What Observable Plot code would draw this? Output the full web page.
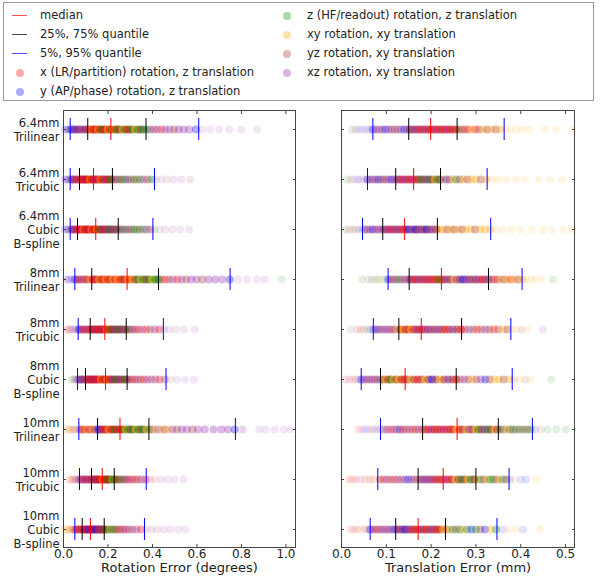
<!DOCTYPE html>
<html><head><meta charset="utf-8">
<script src="https://cdn.jsdelivr.net/npm/d3@7"></script>
<script src="https://cdn.jsdelivr.net/npm/@observablehq/plot@0.6"></script>
<style>
body{margin:0;background:#fff;font-family:"DejaVu Sans",sans-serif;}
#wrap{position:relative;width:600px;height:581px;overflow:hidden;}
#legend{position:absolute;left:3px;top:2px;width:591px;height:99px;border:1px solid #999;box-sizing:border-box;}
#legsym{position:absolute;left:0;top:0;}
.li{position:absolute;font-size:11.5px;color:#222;line-height:14px;white-space:nowrap;}
#left,#right{position:absolute;top:100px;}
#left{left:0}#right{left:300px}
</style></head><body>
<div id="wrap"><div id="legend"></div><div id="left"></div><div id="right"></div></div>
<script>
const rowLabels = ["6.4mm\nTrilinear","6.4mm\nTricubic","6.4mm\nCubic\nB-spline","8mm\nTrilinear","8mm\nTricubic","8mm\nCubic\nB-spline","10mm\nTrilinear","10mm\nTricubic","10mm\nCubic\nB-spline"];
const catCodes = ["r","b","g","o","n","p"];
const catNames = ["x (LR/partition) rotation, z translation","y (AP/phase) rotation, z translation","z (HF/readout) rotation, z translation","xy rotation, xy translation","yz rotation, xy translation","xz rotation, xy translation"];
const catColors = ["#ff0000","#0000ff","#008000","#ffa500","#a52a2a","#8e24aa"];
const quantNames = ["median","25%, 75% quantile","5%, 95% quantile"];
const quantColors = ["#ff0000","#000000","#0000ff"];
const rotTicks = [0,0.2,0.4,0.6,0.8,1.0];
const trTicks = [0,0.1,0.2,0.3,0.4,0.5];

// quantiles (rotation, degrees)
const rotQ05 = [.030,.030,.030,.051,.066,.063,.069,.072,.051];
const rotQ25 = [.109,.072,.063,.127,.120,.099,.153,.126,.084];
const rotQ50 = [.213,.135,.145,.286,.186,.189,.254,.174,.121];
const rotQ75 = [.371,.220,.246,.427,.282,.286,.384,.228,.183];
const rotQ95 = [.608,.409,.402,.749,.449,.461,.773,.372,.364];
// quantiles (translation, mm)
const trQ05 = [.070,.058,.047,.104,.071,.044,.087,.081,.064];
const trQ25 = [.150,.121,.092,.151,.128,.087,.181,.171,.121];
const trQ50 = [.199,.161,.141,.223,.178,.142,.258,.227,.171];
const trQ75 = [.258,.221,.214,.328,.268,.256,.350,.300,.232];
const trQ95 = [.363,.325,.333,.403,.378,.381,.426,.374,.347];

// rotation error samples
const rot64Tri = [[.004,"b"],[.010,"p"],[.016,"b"],[.022,"b"],[.028,"p"],[.034,"b"],[.040,"n"],[.047,"b"],[.054,"p"],[.061,"r"],[.068,"b"],[.075,"n"],[.083,"p"],[.091,"r"],[.099,"b"],[.107,"n"],[.115,"r"],[.123,"o"],[.131,"r"],[.139,"n"],[.147,"r"],[.155,"o"],[.163,"r"],[.171,"g"],[.180,"n"],[.189,"r"],[.198,"o"],[.207,"r"],[.216,"g"],[.225,"o"],[.234,"r"],[.244,"g"],[.254,"n"],[.264,"o"],[.275,"g"],[.286,"r"],[.297,"n"],[.309,"g"],[.321,"o"],[.334,"g"],[.347,"n"],[.361,"g"],[.375,"g"],[.390,"p"],[.406,"n"],[.422,"p"],[.440,"r"],[.458,"p"],[.477,"p"],[.497,"n"],[.518,"p"],[.540,"p"],[.565,"p"],[.595,"b"],[.625,"p"],[.660,"p"],[.700,"p"],[.745,"p"],[.800,"p"],[.870,"p"]];
const rot64Tcu = [[.005,"b"],[.011,"p"],[.017,"b"],[.023,"b"],[.029,"p"],[.035,"n"],[.041,"b"],[.047,"r"],[.053,"p"],[.059,"n"],[.065,"r"],[.071,"p"],[.077,"r"],[.083,"n"],[.089,"r"],[.095,"p"],[.101,"r"],[.107,"n"],[.113,"r"],[.119,"o"],[.125,"r"],[.131,"n"],[.138,"r"],[.145,"p"],[.152,"r"],[.159,"n"],[.166,"o"],[.173,"r"],[.181,"n"],[.189,"p"],[.197,"r"],[.205,"n"],[.214,"g"],[.223,"n"],[.233,"r"],[.243,"p"],[.254,"g"],[.265,"n"],[.277,"g"],[.289,"p"],[.302,"n"],[.316,"g"],[.330,"n"],[.345,"g"],[.361,"p"],[.378,"n"],[.396,"g"],[.415,"n"],[.438,"p"],[.465,"n"],[.495,"p"],[.530,"p"],[.570,"n"]];
const rot64Bsp = [[.005,"b"],[.011,"b"],[.017,"p"],[.023,"b"],[.029,"p"],[.035,"n"],[.041,"b"],[.047,"r"],[.053,"p"],[.059,"r"],[.065,"n"],[.071,"r"],[.077,"p"],[.083,"r"],[.089,"o"],[.095,"r"],[.101,"n"],[.107,"r"],[.113,"p"],[.119,"r"],[.125,"o"],[.131,"r"],[.137,"n"],[.143,"r"],[.150,"o"],[.157,"r"],[.164,"g"],[.171,"n"],[.178,"p"],[.186,"r"],[.194,"n"],[.202,"p"],[.210,"g"],[.219,"n"],[.228,"p"],[.237,"n"],[.247,"g"],[.257,"p"],[.268,"n"],[.279,"g"],[.291,"p"],[.303,"n"],[.316,"g"],[.329,"g"],[.343,"n"],[.358,"g"],[.374,"p"],[.391,"n"],[.410,"g"],[.432,"p"],[.458,"n"],[.490,"p"],[.525,"p"],[.565,"p"]];
const rot8Tri = [[.012,"p"],[.020,"b"],[.028,"p"],[.036,"b"],[.044,"n"],[.052,"b"],[.060,"p"],[.068,"n"],[.077,"r"],[.086,"p"],[.095,"n"],[.104,"r"],[.113,"n"],[.122,"o"],[.131,"r"],[.140,"n"],[.150,"r"],[.160,"o"],[.170,"n"],[.180,"r"],[.190,"o"],[.200,"r"],[.211,"n"],[.222,"o"],[.233,"r"],[.244,"o"],[.255,"r"],[.266,"n"],[.277,"r"],[.288,"o"],[.299,"r"],[.311,"o"],[.323,"n"],[.335,"g"],[.347,"o"],[.359,"g"],[.372,"n"],[.385,"g"],[.398,"o"],[.412,"g"],[.426,"g"],[.441,"n"],[.457,"r"],[.474,"n"],[.492,"p"],[.511,"r"],[.531,"p"],[.552,"n"],[.574,"p"],[.598,"p"],[.624,"n"],[.652,"p"],[.682,"p"],[.714,"p"],[.748,"b"],[.785,"p"],[.825,"p"],[.870,"p"],[.905,"p"],[.980,"g"]];
const rot8Tcu = [[.015,"r"],[.023,"p"],[.031,"r"],[.039,"n"],[.047,"p"],[.055,"b"],[.062,"p"],[.069,"b"],[.076,"n"],[.083,"p"],[.090,"r"],[.097,"p"],[.104,"n"],[.111,"r"],[.118,"p"],[.125,"r"],[.132,"n"],[.139,"p"],[.146,"r"],[.153,"n"],[.160,"r"],[.167,"p"],[.174,"r"],[.181,"n"],[.188,"r"],[.195,"o"],[.202,"n"],[.210,"r"],[.218,"g"],[.226,"n"],[.234,"p"],[.242,"n"],[.251,"g"],[.260,"n"],[.269,"p"],[.279,"n"],[.289,"g"],[.300,"n"],[.311,"p"],[.323,"n"],[.338,"r"],[.355,"p"],[.372,"r"],[.390,"n"],[.410,"p"],[.430,"r"],[.452,"b"],[.475,"p"],[.505,"n"],[.540,"p"],[.590,"p"]];
const rot8Bsp = [[.035,"g"],[.042,"o"],[.049,"b"],[.056,"p"],[.062,"b"],[.068,"n"],[.074,"p"],[.080,"b"],[.086,"n"],[.092,"p"],[.098,"r"],[.104,"n"],[.110,"p"],[.116,"r"],[.122,"n"],[.128,"p"],[.134,"r"],[.140,"n"],[.147,"r"],[.154,"p"],[.161,"r"],[.168,"o"],[.175,"r"],[.182,"n"],[.189,"r"],[.196,"o"],[.204,"r"],[.212,"n"],[.220,"p"],[.228,"n"],[.237,"g"],[.246,"n"],[.255,"p"],[.265,"n"],[.275,"g"],[.285,"n"],[.296,"p"],[.308,"n"],[.320,"r"],[.333,"p"],[.347,"n"],[.362,"r"],[.378,"p"],[.395,"n"],[.413,"p"],[.432,"r"],[.455,"p"],[.480,"n"],[.510,"p"],[.545,"p"],[.585,"p"]];
const rot10Tri = [[.012,"o"],[.020,"o"],[.028,"n"],[.036,"o"],[.044,"r"],[.052,"n"],[.060,"o"],[.068,"b"],[.077,"r"],[.086,"n"],[.095,"r"],[.104,"o"],[.113,"n"],[.122,"r"],[.131,"o"],[.140,"n"],[.149,"p"],[.158,"b"],[.167,"p"],[.176,"r"],[.185,"n"],[.194,"r"],[.203,"o"],[.212,"n"],[.221,"r"],[.230,"g"],[.240,"r"],[.250,"n"],[.260,"r"],[.270,"g"],[.280,"o"],[.291,"g"],[.302,"n"],[.313,"g"],[.324,"o"],[.336,"g"],[.348,"n"],[.360,"g"],[.372,"o"],[.385,"g"],[.398,"n"],[.412,"o"],[.426,"p"],[.441,"o"],[.456,"n"],[.472,"o"],[.490,"p"],[.510,"n"],[.532,"p"],[.555,"p"],[.580,"n"],[.605,"p"],[.635,"p"],[.675,"p"],[.710,"p"],[.740,"p"],[.770,"b"],[.800,"p"],[.810,"p"],[.880,"p"],[.910,"p"],[.950,"p"],[.990,"p"],[1.02,"p"]];
const rot10Tcu = [[.027,"r"],[.034,"o"],[.041,"r"],[.048,"n"],[.055,"p"],[.062,"r"],[.068,"b"],[.074,"p"],[.080,"n"],[.086,"p"],[.092,"r"],[.098,"p"],[.104,"n"],[.110,"p"],[.116,"r"],[.122,"p"],[.128,"n"],[.134,"p"],[.140,"r"],[.146,"n"],[.152,"p"],[.158,"r"],[.164,"n"],[.170,"r"],[.176,"o"],[.182,"r"],[.188,"n"],[.194,"g"],[.200,"r"],[.206,"n"],[.213,"g"],[.220,"o"],[.227,"g"],[.234,"n"],[.242,"g"],[.250,"r"],[.258,"n"],[.267,"g"],[.276,"p"],[.286,"n"],[.297,"r"],[.309,"p"],[.322,"r"],[.336,"n"],[.352,"p"],[.370,"r"],[.390,"p"],[.410,"r"],[.440,"p"],[.470,"p"],[.500,"p"],[.540,"p"]];
const rot10Bsp = [[.005,"o"],[.011,"o"],[.017,"o"],[.023,"o"],[.029,"n"],[.035,"o"],[.041,"r"],[.047,"n"],[.053,"r"],[.059,"p"],[.065,"r"],[.071,"n"],[.077,"r"],[.083,"p"],[.089,"r"],[.095,"n"],[.101,"p"],[.107,"r"],[.113,"b"],[.119,"p"],[.125,"r"],[.131,"b"],[.137,"p"],[.143,"n"],[.149,"b"],[.155,"p"],[.161,"n"],[.167,"r"],[.173,"p"],[.179,"n"],[.186,"g"],[.193,"n"],[.200,"g"],[.208,"o"],[.216,"g"],[.225,"n"],[.235,"g"],[.245,"r"],[.256,"n"],[.268,"p"],[.280,"r"],[.294,"p"],[.310,"n"],[.328,"p"],[.348,"r"],[.370,"p"],[.395,"p"],[.420,"n"],[.450,"p"],[.480,"p"],[.515,"p"],[.547,"p"]];

// translation error samples
const tr64Tri = [[.024,"g"],[.032,"n"],[.040,"b"],[.048,"p"],[.056,"b"],[.063,"n"],[.070,"b"],[.077,"p"],[.084,"n"],[.091,"p"],[.098,"b"],[.105,"p"],[.112,"n"],[.119,"p"],[.126,"n"],[.133,"p"],[.140,"b"],[.146,"p"],[.152,"n"],[.158,"p"],[.164,"n"],[.170,"p"],[.176,"r"],[.182,"n"],[.188,"p"],[.194,"r"],[.200,"n"],[.206,"r"],[.212,"p"],[.218,"r"],[.224,"n"],[.230,"r"],[.236,"p"],[.242,"r"],[.248,"n"],[.255,"r"],[.262,"g"],[.269,"r"],[.276,"n"],[.283,"r"],[.291,"o"],[.299,"r"],[.307,"n"],[.316,"o"],[.325,"n"],[.334,"o"],[.344,"n"],[.354,"o"],[.365,"o"],[.377,"o"],[.390,"o"],[.405,"o"],[.420,"o"],[.455,"o"],[.480,"o"],[.515,"o"]];
const tr64Tcu = [[.013,"g"],[.021,"n"],[.029,"p"],[.037,"b"],[.044,"p"],[.051,"n"],[.058,"b"],[.064,"p"],[.070,"n"],[.076,"p"],[.082,"b"],[.088,"n"],[.094,"p"],[.100,"n"],[.106,"p"],[.112,"b"],[.118,"p"],[.124,"n"],[.130,"p"],[.136,"r"],[.142,"p"],[.148,"n"],[.154,"r"],[.160,"p"],[.166,"r"],[.172,"n"],[.178,"g"],[.184,"n"],[.190,"p"],[.196,"g"],[.202,"n"],[.208,"o"],[.214,"g"],[.220,"n"],[.227,"o"],[.234,"b"],[.241,"n"],[.248,"o"],[.256,"g"],[.264,"n"],[.272,"o"],[.281,"n"],[.290,"o"],[.300,"o"],[.311,"n"],[.323,"o"],[.336,"o"],[.350,"o"],[.368,"o"],[.390,"o"],[.410,"o"],[.440,"o"],[.465,"o"],[.493,"o"]];
const tr64Bsp = [[.009,"g"],[.017,"n"],[.025,"r"],[.032,"g"],[.039,"p"],[.046,"b"],[.052,"p"],[.058,"n"],[.064,"p"],[.070,"b"],[.076,"p"],[.082,"n"],[.088,"p"],[.094,"p"],[.100,"n"],[.106,"p"],[.112,"r"],[.118,"p"],[.124,"n"],[.130,"p"],[.136,"r"],[.142,"n"],[.148,"b"],[.154,"p"],[.160,"n"],[.166,"b"],[.172,"n"],[.178,"p"],[.184,"n"],[.190,"b"],[.197,"n"],[.204,"p"],[.212,"n"],[.220,"o"],[.228,"o"],[.236,"n"],[.244,"o"],[.252,"n"],[.260,"o"],[.269,"n"],[.278,"o"],[.288,"o"],[.298,"n"],[.309,"o"],[.320,"o"],[.332,"o"],[.345,"o"],[.360,"o"],[.380,"o"],[.400,"o"],[.425,"o"],[.450,"o"],[.470,"o"],[.495,"o"],[.515,"o"]];
const tr8Tri = [[.046,"g"],[.060,"n"],[.068,"g"],[.076,"n"],[.084,"g"],[.091,"o"],[.098,"g"],[.104,"b"],[.110,"n"],[.116,"p"],[.122,"n"],[.128,"g"],[.134,"p"],[.140,"n"],[.146,"p"],[.152,"n"],[.158,"p"],[.164,"r"],[.170,"n"],[.176,"p"],[.182,"n"],[.188,"r"],[.194,"p"],[.200,"r"],[.206,"n"],[.212,"r"],[.218,"g"],[.224,"r"],[.230,"n"],[.237,"p"],[.244,"n"],[.251,"o"],[.258,"p"],[.265,"n"],[.272,"b"],[.279,"p"],[.286,"n"],[.293,"p"],[.300,"n"],[.307,"p"],[.314,"r"],[.321,"n"],[.328,"p"],[.335,"n"],[.342,"r"],[.349,"n"],[.356,"o"],[.363,"n"],[.370,"o"],[.378,"r"],[.386,"o"],[.394,"n"],[.403,"o"],[.412,"o"],[.422,"o"],[.433,"o"],[.447,"o"],[.472,"g"]];
const tr8Tcu = [[.020,"p"],[.034,"n"],[.042,"r"],[.050,"n"],[.058,"g"],[.065,"b"],[.071,"p"],[.077,"b"],[.083,"p"],[.089,"n"],[.095,"p"],[.101,"p"],[.107,"n"],[.113,"p"],[.119,"n"],[.125,"o"],[.131,"n"],[.137,"o"],[.143,"r"],[.149,"n"],[.155,"o"],[.161,"r"],[.167,"p"],[.173,"n"],[.179,"r"],[.186,"p"],[.193,"n"],[.200,"p"],[.208,"n"],[.216,"p"],[.224,"n"],[.232,"r"],[.240,"n"],[.249,"p"],[.258,"n"],[.267,"r"],[.276,"n"],[.285,"p"],[.294,"n"],[.303,"r"],[.312,"n"],[.321,"p"],[.330,"n"],[.340,"r"],[.350,"n"],[.360,"o"],[.370,"n"],[.380,"o"],[.390,"o"],[.402,"n"],[.415,"o"],[.450,"p"]];
const tr8Bsp = [[.009,"r"],[.017,"p"],[.025,"r"],[.032,"n"],[.038,"p"],[.044,"b"],[.050,"p"],[.056,"p"],[.062,"n"],[.068,"p"],[.074,"p"],[.080,"n"],[.086,"p"],[.092,"n"],[.098,"o"],[.104,"n"],[.110,"g"],[.116,"o"],[.122,"n"],[.128,"o"],[.134,"n"],[.140,"r"],[.147,"n"],[.154,"o"],[.162,"n"],[.170,"r"],[.178,"n"],[.186,"o"],[.194,"n"],[.202,"b"],[.211,"n"],[.220,"o"],[.229,"n"],[.238,"p"],[.247,"n"],[.256,"r"],[.265,"n"],[.274,"p"],[.283,"n"],[.292,"o"],[.301,"n"],[.311,"p"],[.321,"b"],[.331,"n"],[.341,"o"],[.351,"o"],[.362,"n"],[.373,"o"],[.385,"n"],[.397,"o"],[.410,"n"],[.422,"o"],[.468,"g"]];
const tr10Tri = [[.038,"r"],[.046,"p"],[.054,"b"],[.062,"p"],[.070,"n"],[.078,"b"],[.086,"p"],[.094,"n"],[.102,"p"],[.110,"r"],[.117,"p"],[.124,"n"],[.131,"b"],[.138,"r"],[.145,"n"],[.152,"p"],[.159,"r"],[.166,"n"],[.173,"p"],[.180,"r"],[.187,"n"],[.194,"r"],[.201,"p"],[.208,"r"],[.215,"n"],[.222,"r"],[.229,"p"],[.236,"r"],[.243,"n"],[.250,"r"],[.257,"o"],[.264,"r"],[.271,"n"],[.278,"o"],[.285,"p"],[.292,"n"],[.299,"o"],[.306,"g"],[.313,"n"],[.320,"p"],[.327,"g"],[.334,"n"],[.341,"o"],[.348,"n"],[.355,"g"],[.362,"n"],[.369,"o"],[.376,"g"],[.383,"n"],[.390,"g"],[.398,"n"],[.406,"g"],[.414,"n"],[.422,"g"],[.432,"b"],[.445,"n"],[.460,"g"],[.480,"g"],[.500,"g"]];
const tr10Tcu = [[.016,"r"],[.024,"r"],[.032,"r"],[.042,"p"],[.052,"r"],[.062,"n"],[.070,"r"],[.078,"o"],[.086,"n"],[.094,"r"],[.102,"p"],[.110,"n"],[.118,"r"],[.126,"p"],[.134,"n"],[.142,"p"],[.149,"b"],[.156,"p"],[.163,"n"],[.170,"p"],[.177,"n"],[.184,"p"],[.191,"p"],[.198,"n"],[.205,"p"],[.212,"r"],[.219,"n"],[.226,"r"],[.233,"p"],[.240,"r"],[.247,"n"],[.254,"o"],[.261,"n"],[.268,"g"],[.275,"n"],[.282,"o"],[.289,"g"],[.296,"n"],[.303,"o"],[.310,"g"],[.317,"n"],[.324,"o"],[.331,"g"],[.338,"g"],[.345,"n"],[.352,"o"],[.360,"g"],[.368,"n"],[.376,"b"],[.386,"o"],[.400,"b"],[.412,"b"],[.435,"o"]];
const tr10Bsp = [[.020,"r"],[.028,"n"],[.036,"r"],[.044,"o"],[.052,"n"],[.058,"r"],[.064,"b"],[.070,"p"],[.076,"r"],[.082,"p"],[.088,"n"],[.094,"p"],[.100,"p"],[.106,"n"],[.112,"p"],[.118,"b"],[.124,"p"],[.130,"n"],[.136,"p"],[.142,"b"],[.148,"n"],[.154,"p"],[.160,"r"],[.166,"n"],[.172,"r"],[.178,"p"],[.184,"n"],[.190,"r"],[.196,"n"],[.202,"p"],[.208,"n"],[.214,"r"],[.220,"n"],[.227,"o"],[.234,"n"],[.241,"o"],[.248,"g"],[.256,"n"],[.264,"g"],[.272,"o"],[.280,"g"],[.290,"b"],[.300,"g"],[.310,"n"],[.320,"b"],[.332,"o"],[.345,"g"],[.360,"b"],[.375,"o"],[.390,"o"],[.405,"b"],[.442,"o"]];

const rotRows = [rot64Tri,rot64Tcu,rot64Bsp,rot8Tri,rot8Tcu,rot8Bsp,rot10Tri,rot10Tcu,rot10Bsp];
const trRows = [tr64Tri,tr64Tcu,tr64Bsp,tr8Tri,tr8Tcu,tr8Bsp,tr10Tri,tr10Tcu,tr10Bsp];

// dots inside the dense part of each distribution overlap many more samples: shade by quantile band
function dotsOf(rows,q05,q25,q75,q95){
  return rows.flatMap((arr,i)=>arr.map(([v,c])=>{
    let a = 0.11;
    if (v>=q25[i] && v<=q75[i]) a = 0.5;
    else if (v>=q05[i] && v<=q95[i]) a = 0.32;
    return {row:rowLabels[i],v,cat:c,a};
  }));
}
function qOf(arrs){ return arrs.flatMap(a=>a.map((v,i)=>({row:rowLabels[i],v}))); }

const font = "DejaVu Sans";
function panel({rows,q05,q25,q50,q75,q95,domain,ticks,title,marginLeft,marginRight,showY}){
  return Plot.plot({
    width:300, height:481, marginLeft, marginRight, marginTop:10, marginBottom:34,
    style:{fontFamily:font,fontSize:"12px",color:"#222",background:"transparent",overflow:"visible"},
    x:{domain},
    y:{domain:rowLabels,paddingInner:0.57,paddingOuter:0.08},
    color:{type:"ordinal",domain:catCodes,range:catColors},
    marks:[
      Plot.dot(dotsOf(rows,q05,q25,q75,q95),{x:"v",y:"row",fill:"cat",r:4,fillOpacity:"a"}),
      Plot.tickX(qOf([q05,q95]),{x:"v",y:"row",stroke:quantColors[2],strokeWidth:1}),
      Plot.tickX(qOf([q25,q75]),{x:"v",y:"row",stroke:quantColors[1],strokeWidth:1}),
      Plot.tickX(qOf([q50]),{x:"v",y:"row",stroke:quantColors[0],strokeWidth:1}),
      Plot.frame({stroke:"#444"}),
      Plot.axisX({ticks,tickFormat:d3.format(".1f"),tickSize:-3,tickPadding:5,label:null,fontSize:12,stroke:"#444"}),
      Plot.axisX({anchor:"top",ticks,tickFormat:()=>"",tickSize:-3,label:null,stroke:"#444"}),
      showY ? Plot.axisY({tickSize:0,tickPadding:4,label:null,fontSize:11.5,lineHeight:1.2}) : null,
      Plot.axisY({anchor:"left",tickSize:-3,tickFormat:()=>"",label:null,stroke:"#444"}),
      Plot.axisY({anchor:"right",tickSize:-3,tickFormat:()=>"",label:null,stroke:"#444"}),
      Plot.text([title],{frameAnchor:"bottom",dy:24,text:d=>d,fontSize:13,fill:"#222"})
    ]
  });
}

document.getElementById("left").append(panel({rows:rotRows,q05:rotQ05,q25:rotQ25,q50:rotQ50,q75:rotQ75,q95:rotQ95,domain:[0,1.043],ticks:rotTicks,title:"Rotation Error (degrees)",marginLeft:63,marginRight:5,showY:true}));
document.getElementById("right").append(panel({rows:trRows,q05:trQ05,q25:trQ25,q50:trQ50,q75:trQ75,q95:trQ95,domain:[0,0.52],ticks:trTicks,title:"Translation Error (mm)",marginLeft:41,marginRight:26,showY:false}));

// legend
const leg = document.getElementById("legend");
const items = [
  ...quantNames.map((n,i)=>({n,type:"line",c:quantColors[i]})),
  ...catNames.map((n,i)=>({n,type:"dot",c:catColors[i]}))
];
const rowsY = [13,32,51,70,89];
const NS = "http://www.w3.org/2000/svg";
const svg = document.createElementNS(NS,"svg");
svg.setAttribute("id","legsym"); svg.setAttribute("width","589"); svg.setAttribute("height","97");
leg.append(svg);
items.forEach((it,k)=>{
  const col = k<5?0:1, r = k<5?k:k-5;
  const sx = col===0?16:283, tx = col===0?36:303;
  const y = rowsY[r];
  if(it.type==="line"){
    const l = document.createElementNS(NS,"line");
    l.setAttribute("x1",sx-8); l.setAttribute("x2",sx+7); l.setAttribute("y1",y-0.5); l.setAttribute("y2",y-0.5);
    l.setAttribute("stroke",it.c); l.setAttribute("stroke-opacity","0.7"); l.setAttribute("stroke-width","1");
    svg.append(l);
  } else {
    const c = document.createElementNS(NS,"circle");
    c.setAttribute("cx",sx); c.setAttribute("cy",y); c.setAttribute("r","4");
    c.setAttribute("fill",it.c); c.setAttribute("fill-opacity","0.33");
    svg.append(c);
  }
  const t = document.createElement("div"); t.className="li"; t.textContent=it.n;
  Object.assign(t.style,{left:tx+"px",top:(y-8)+"px"});
  leg.append(t);
});
</script></body></html>
